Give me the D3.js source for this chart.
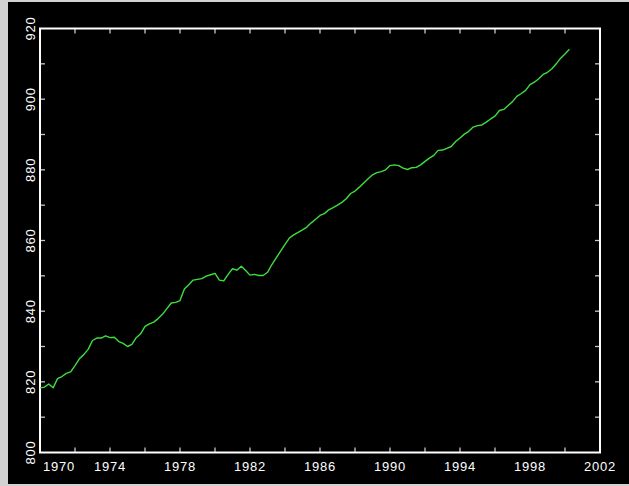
<!DOCTYPE html>
<html>
<head>
<meta charset="utf-8">
<script src="https://cdn.jsdelivr.net/npm/d3@7"></script>
<style>
  html, body { margin: 0; padding: 0; background: #d2d2d2; }
  svg { display: block; }
  text { font-family: "Liberation Sans", Arial, sans-serif; }
</style>
</head>
<body>
<svg id="chart" width="629" height="486"></svg>
<script>
// Quarterly series, first quarter 1970 through second quarter 2000
const startYear = 1970;
const periodsPerYear = 4;
const values = [
  818.3, 818.5, 819.4, 818.3, 820.9, 821.5, 822.4, 822.8,
  824.6, 826.5, 827.7, 829.2, 831.7, 832.4, 832.4, 833.0,
  832.5, 832.6, 831.4, 830.9, 830.0, 830.6, 832.5, 833.6,
  835.7, 836.4, 836.9, 837.9, 839.1, 840.7, 842.3, 842.5,
  843.0, 846.3, 847.5, 848.8, 849.0, 849.2, 849.9, 850.3,
  850.7, 848.8, 848.6, 850.4, 852.0, 851.6, 852.7, 851.5,
  850.2, 850.4, 850.1, 850.1, 851.0, 853.2, 855.1, 857.0,
  858.9, 860.7, 861.6, 862.3, 863.0, 863.8, 865.0, 866.0,
  867.1, 867.6, 868.7, 869.3, 870.0, 870.8, 871.8, 873.3,
  874.0, 875.1, 876.3, 877.5, 878.6, 879.2, 879.5, 880.0,
  881.2, 881.4, 881.2, 880.5, 880.1, 880.6, 880.7, 881.4,
  882.4, 883.3, 884.1, 885.5, 885.6, 886.1, 886.6, 888.0,
  889.0, 890.1, 890.9, 892.1, 892.5, 892.7, 893.5, 894.4,
  895.2, 896.8, 897.1, 898.2, 899.3, 900.8, 901.6, 902.5,
  904.1, 904.8, 905.8, 907.0, 907.6, 908.6, 910.0, 911.6,
  912.8, 914.1
];

// Axis ranges and tick marks
const xDomain = [1970, 2002];
const yDomain = [800, 920];
const xTicks = d3.range(1970, 2003, 2);
const xLabels = [1970, 1974, 1978, 1982, 1986, 1990, 1994, 1998, 2002];
const yTicks = d3.range(800, 921, 10);
const yLabels = [800, 820, 840, 860, 880, 900, 920];

const svg = d3.select("#chart");

// black canvas inside the grey border
svg.append("rect")
  .attr("x", 8).attr("y", 2)
  .attr("width", 621).attr("height", 482)
  .attr("fill", "#000");

const plot = { left: 40, right: 600, top: 28.5, bottom: 452.5 };

const x = d3.scaleLinear().domain(xDomain).range([plot.left, plot.right]);
const y = d3.scaleLinear().domain(yDomain).range([plot.bottom, plot.top]);

const tickLen = 5;
const tickColor = "#c8c8c8";

// ticks on all four sides, pointing inward
const g = svg.append("g");
g.selectAll("line.xb").data(xTicks.slice(1, -1)).join("line")
  .attr("x1", d => x(d)).attr("x2", d => x(d))
  .attr("y1", plot.bottom).attr("y2", plot.bottom - tickLen)
  .attr("stroke", tickColor).attr("stroke-width", 1.3);
g.selectAll("line.xt").data(xTicks.slice(1, -1)).join("line")
  .attr("x1", d => x(d)).attr("x2", d => x(d))
  .attr("y1", plot.top).attr("y2", plot.top + tickLen)
  .attr("stroke", tickColor).attr("stroke-width", 1.3);
g.selectAll("line.yl").data(yTicks.slice(1, -1)).join("line")
  .attr("y1", d => y(d)).attr("y2", d => y(d))
  .attr("x1", plot.left).attr("x2", plot.left + tickLen)
  .attr("stroke", tickColor).attr("stroke-width", 1.3);
g.selectAll("line.yr").data(yTicks.slice(1, -1)).join("line")
  .attr("y1", d => y(d)).attr("y2", d => y(d))
  .attr("x1", plot.right).attr("x2", plot.right - tickLen)
  .attr("stroke", tickColor).attr("stroke-width", 1.3);

// frame
svg.append("rect")
  .attr("x", plot.left).attr("y", plot.top)
  .attr("width", plot.right - plot.left)
  .attr("height", plot.bottom - plot.top)
  .attr("fill", "none")
  .attr("stroke", "#fff")
  .attr("stroke-width", 2);

// x labels
svg.selectAll("text.xl").data(xLabels).join("text")
  .attr("class", "xl")
  .attr("x", d => d === xDomain[0] ? x(d) + 3 : x(d))
  .attr("y", 471)
  .attr("text-anchor", d => d === xDomain[0] ? "start" : "middle")
  .attr("fill", "#fff")
  .attr("font-size", 13)
  .attr("letter-spacing", 0.8)
  .text(d => d);

// y labels, rotated
svg.selectAll("text.yl").data(yLabels).join("text")
  .attr("class", "yl")
  .attr("transform", d => `translate(35,${y(d)}) rotate(-90)`)
  .attr("text-anchor", "middle")
  .attr("fill", "#fff")
  .attr("font-size", 13)
  .attr("letter-spacing", 0.8)
  .text(d => d);

// series line
const line = d3.line()
  .x((d, i) => x(startYear + i / periodsPerYear))
  .y(d => y(d));

svg.append("path")
  .datum(values)
  .attr("d", line)
  .attr("fill", "none")
  .attr("stroke", "#3ede3e")
  .attr("stroke-width", 1.4)
  .attr("stroke-linejoin", "round");
</script>
</body>
</html>
